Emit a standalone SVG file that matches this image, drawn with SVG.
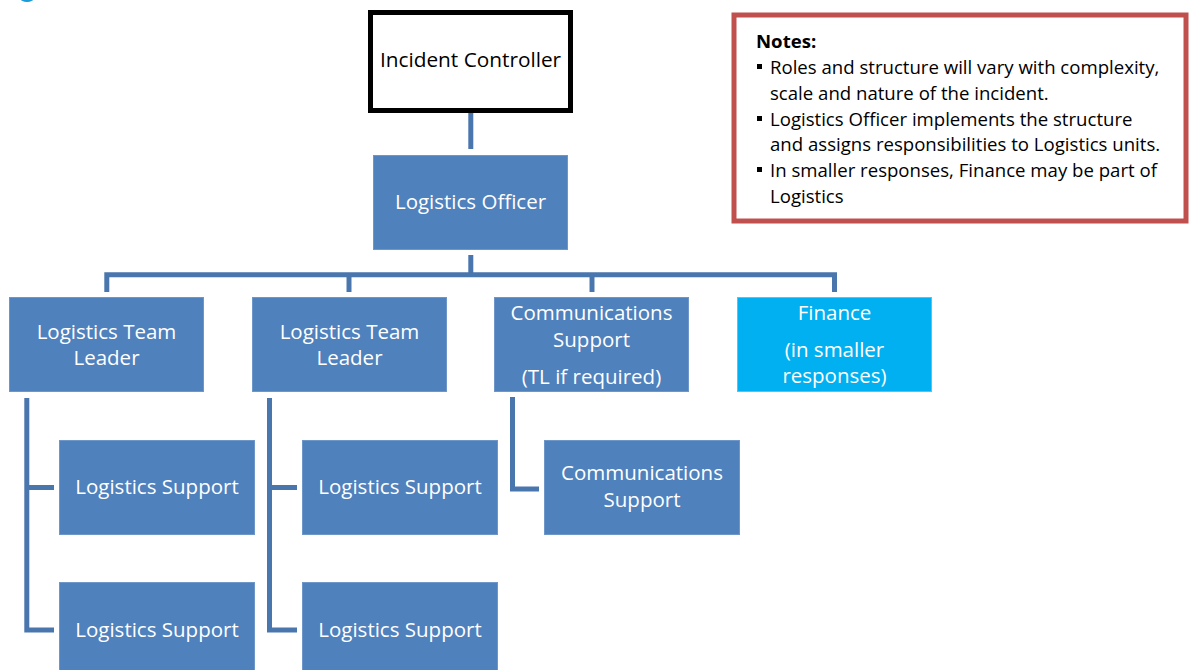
<svg xmlns="http://www.w3.org/2000/svg" width="1193" height="670" viewBox="0 0 1193 670">
  <style>
    .box { fill: #4F81BD; stroke: #6E97C9; stroke-width: 1; }
    .fin { fill: #00B0F0; stroke: #4CC8F4; stroke-width: 1; }
    .lbl { font-family: "Open Sans", "Liberation Sans", sans-serif; font-size: 20.5px; fill: #FFFFFF; text-anchor: middle; }
    .lblk { font-family: "Open Sans", "Liberation Sans", sans-serif; font-size: 20.8px; fill: #000000; text-anchor: middle; }
    .wire { fill: none; stroke: #4A76AE; stroke-width: 5; stroke-linejoin: miter; }
    .note { font-family: "Open Sans", "Liberation Sans", sans-serif; font-size: 18.6px; fill: #000000; }
  </style>

  <!-- clipped heading glyph at the top edge -->
  <ellipse cx="27" cy="-2" rx="7" ry="4" fill="#1B9BD7"/>

  <g id="connectors">
    <line class="wire" x1="470.8" y1="113" x2="470.8" y2="149"/>
    <line class="wire" x1="470.8" y1="255" x2="470.8" y2="275"/>
    <path class="wire" d="M106.8,292 V274.7 H834.5 V292"/>
    <line class="wire" x1="349" y1="274.7" x2="349" y2="292"/>
    <line class="wire" x1="592" y1="274.7" x2="592" y2="292"/>
    <path class="wire" d="M26.8,398 V630 H54 M26.8,487.5 H54"/>
    <path class="wire" d="M269.5,398 V630 H297 M269.5,487.5 H297"/>
    <path class="wire" d="M512.5,397 V489 H539"/>
  </g>

  <g id="incident-controller">
    <rect x="370.5" y="12.5" width="200" height="98" fill="#FFFFFF" stroke="#000000" stroke-width="5"/>
    <text class="lblk" x="470.5" y="67">Incident Controller</text>
  </g>

  <g id="logistics-officer">
    <rect class="box" x="373.5" y="155.5" width="194" height="94"/>
    <text class="lbl" x="470.5" y="209">Logistics Officer</text>
  </g>

  <g id="team-leader-1">
    <rect class="box" x="9.5" y="297.5" width="194" height="94"/>
    <text class="lbl" x="106.5" y="339">Logistics Team</text>
    <text class="lbl" x="106.5" y="365">Leader</text>
  </g>

  <g id="team-leader-2">
    <rect class="box" x="252.5" y="297.5" width="194" height="94"/>
    <text class="lbl" x="349.5" y="339">Logistics Team</text>
    <text class="lbl" x="349.5" y="365">Leader</text>
  </g>

  <g id="comms-lead">
    <rect class="box" x="494.5" y="297.5" width="194" height="94"/>
    <text class="lbl" x="591.5" y="320">Communications</text>
    <text class="lbl" x="591.5" y="347">Support</text>
    <text class="lbl" x="591.5" y="384">(TL if required)</text>
  </g>

  <g id="finance">
    <rect class="fin" x="737.5" y="297.5" width="194" height="94"/>
    <text class="lbl" x="834.5" y="320">Finance</text>
    <text class="lbl" x="834.5" y="357">(in smaller</text>
    <text class="lbl" x="834.5" y="383">responses)</text>
  </g>

  <g id="support-1a">
    <rect class="box" x="59.5" y="440.5" width="195" height="94"/>
    <text class="lbl" x="157" y="494">Logistics Support</text>
  </g>

  <g id="support-1b">
    <rect class="box" x="59.5" y="582.5" width="195" height="94"/>
    <text class="lbl" x="157" y="637">Logistics Support</text>
  </g>

  <g id="support-2a">
    <rect class="box" x="302.5" y="440.5" width="195" height="94"/>
    <text class="lbl" x="400" y="494">Logistics Support</text>
  </g>

  <g id="support-2b">
    <rect class="box" x="302.5" y="582.5" width="195" height="94"/>
    <text class="lbl" x="400" y="637">Logistics Support</text>
  </g>

  <g id="comms-support">
    <rect class="box" x="544.5" y="440.5" width="195" height="94"/>
    <text class="lbl" x="642" y="480">Communications</text>
    <text class="lbl" x="642" y="507">Support</text>
  </g>

  <g id="notes">
    <rect x="734" y="15" width="452" height="206" fill="#FFFFFF" stroke="#C0504D" stroke-width="5"/>
    <text class="note" x="756" y="48" font-weight="bold">Notes:</text>
    <rect x="757" y="64" width="5" height="5" fill="#000000"/>
    <text class="note" x="770" y="74">Roles and structure will vary with complexity,</text>
    <text class="note" x="770" y="100">scale and nature of the incident.</text>
    <rect x="757" y="116" width="5" height="5" fill="#000000"/>
    <text class="note" x="770" y="126">Logistics Officer implements the structure</text>
    <text class="note" x="770" y="151">and assigns responsibilities to Logistics units.</text>
    <rect x="757" y="167" width="5" height="5" fill="#000000"/>
    <text class="note" x="770" y="177">In smaller responses, Finance may be part of</text>
    <text class="note" x="770" y="203">Logistics</text>
  </g>
</svg>
